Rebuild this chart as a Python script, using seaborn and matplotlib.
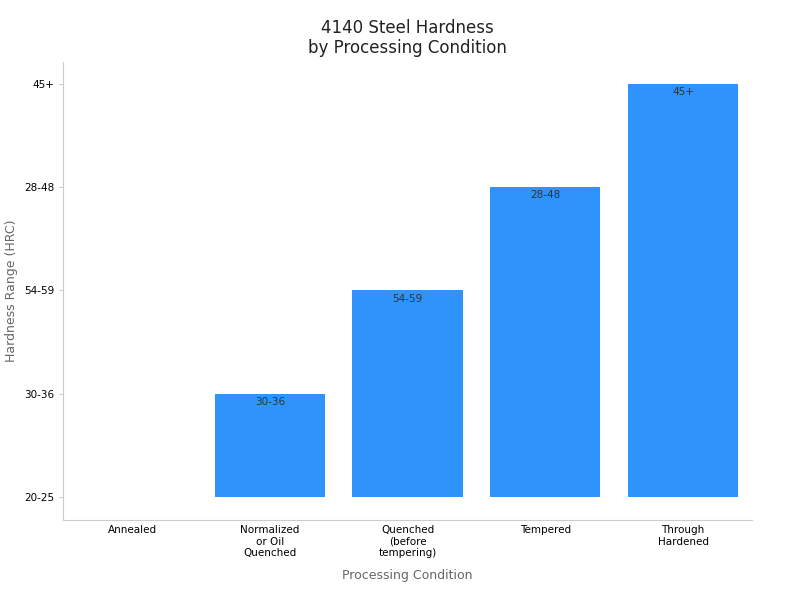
import matplotlib
matplotlib.use("Agg")
import matplotlib.pyplot as plt
import seaborn as sns
import pandas as pd

categories = ["Annealed", "Normalized\nor Oil\nQuenched", "Quenched\n(before\ntempering)", "Tempered", "Through\nHardened"]
hardness_labels = ["20-25", "30-36", "54-59", "28-48", "45+"]
values = ["20-25", "30-36", "54-59", "28-48", "45+"]
levels = [hardness_labels.index(v) for v in values]

df = pd.DataFrame({"cat": categories, "level": levels, "label": values})

fig, ax = plt.subplots(figsize=(8, 6), dpi=100)
fig.subplots_adjust(left=0.079, right=0.94, top=0.897, bottom=0.133)
sns.barplot(data=df, x="cat", y="level", color="#2E93FA", saturation=1, width=0.8, ax=ax)
for i, (lv, lab) in enumerate(zip(levels, values)):
    if lv > 0:
        ax.text(i, lv - 0.03, lab, ha="center", va="top", fontsize=7.5, color="#333333")
ax.set_ylim(-0.22, 4.21)
ax.set_xlim(-0.5, 4.5)
ax.set_yticks(range(len(hardness_labels)))
ax.set_yticklabels(hardness_labels, fontsize=7.5)
ax.tick_params(axis="x", labelsize=7.5, length=0)
ax.tick_params(axis="y", length=3, color="#cccccc")
ax.set_xlabel("Processing Condition", fontsize=9, color="#666666", labelpad=8)
ax.set_ylabel("Hardness Range (HRC)", fontsize=9, color="#666666")
ax.set_title("4140 Steel Hardness\nby Processing Condition", fontsize=12, color="#222222")
for s in ["top", "right"]:
    ax.spines[s].set_visible(False)
for s in ["left", "bottom"]:
    ax.spines[s].set_color("#cccccc")
fig.savefig("out.png")
